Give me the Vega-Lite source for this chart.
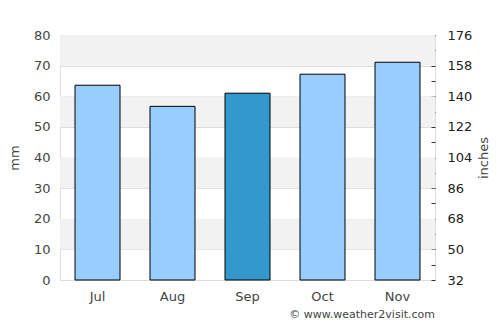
{
  "$schema": "https://vega.github.io/schema/vega-lite/v6.json",
  "width": 375,
  "height": 245,
  "autosize": "none",
  "padding": {"left": 60, "top": 35, "right": 65, "bottom": 45},
  "background": "white",
  "config": {
    "font": "DejaVu Sans",
    "view": {"stroke": "#dddddd", "strokeWidth": 1}
  },
  "title": {
    "text": "© www.weather2visit.com",
    "orient": "bottom",
    "anchor": "end",
    "frame": "group",
    "fontSize": 11,
    "fontWeight": "normal",
    "color": "#444444",
    "offset": 6
  },
  "datasets": {
    "rain": [
      {"month": "Jul", "mm": 63.6, "hl": "n"},
      {"month": "Aug", "mm": 56.7, "hl": "n"},
      {"month": "Sep", "mm": 61.0, "hl": "y"},
      {"month": "Oct", "mm": 67.2, "hl": "n"},
      {"month": "Nov", "mm": 71.1, "hl": "n"}
    ],
    "bands": [
      {"lo": 70, "hi": 80},
      {"lo": 50, "hi": 60},
      {"lo": 30, "hi": 40},
      {"lo": 10, "hi": 20}
    ]
  },
  "layer": [
    {
      "data": {"name": "bands"},
      "mark": {"type": "rect", "fill": "#f2f2f2"},
      "encoding": {
        "y": {"field": "lo", "type": "quantitative", "scale": {"domain": [0, 80]}, "axis": null},
        "y2": {"field": "hi"}
      }
    },
    {
      "data": {"name": "rain"},
      "mark": {"type": "bar", "stroke": "black", "strokeWidth": 1},
      "encoding": {
        "x": {
          "field": "month", "type": "nominal", "sort": null,
          "scale": {"paddingInner": 0.4, "paddingOuter": 0.2},
          "axis": {"title": null, "domain": false, "ticks": false, "labelAngle": 0, "labelFontSize": 13, "labelColor": "#444444", "labelPadding": 10}
        },
        "y": {
          "field": "mm", "type": "quantitative", "scale": {"domain": [0, 80]},
          "axis": {"title": "mm", "titleFontSize": 13, "titleFontWeight": "normal", "titleColor": "#444444", "titlePadding": 12, "values": [0,10,20,30,40,50,60,70,80], "domain": false, "ticks": false, "labelFontSize": 13, "labelColor": "#444444", "labelPadding": 10, "gridColor": "#dddddd", "grid": true}
        },
        "fill": {
          "field": "hl", "type": "nominal",
          "scale": {"domain": ["n", "y"], "range": ["#99ccff", "#3399cc"]},
          "legend": null
        }
      }
    },
    {
      "data": {"values": [{"f": 32}]},
      "mark": {"type": "rule", "opacity": 0},
      "encoding": {
        "y": {
          "field": "f", "type": "quantitative", "scale": {"domain": [32, 176], "nice": false},
          "axis": {
            "orient": "right", "title": "inches", "titleAngle": 270, "titleBaseline": "top", "titleFontSize": 13, "titleFontWeight": "normal", "titleColor": "#444444", "titlePadding": 6,
            "values": [32,41,50,59,68,77,86,95,104,113,122,131,140,149,158,167,176],
            "labelExpr": "(datum.value - 32) % 18 == 0 ? datum.label : ''",
            "domain": false, "grid": false, "ticks": true, "tickSize": -4, "tickColor": "#333333",
            "labelFontSize": 13, "labelColor": "#222222", "labelPadding": 16
          }
        }
      }
    }
  ],
  "resolve": {"scale": {"y": "independent"}}
}
